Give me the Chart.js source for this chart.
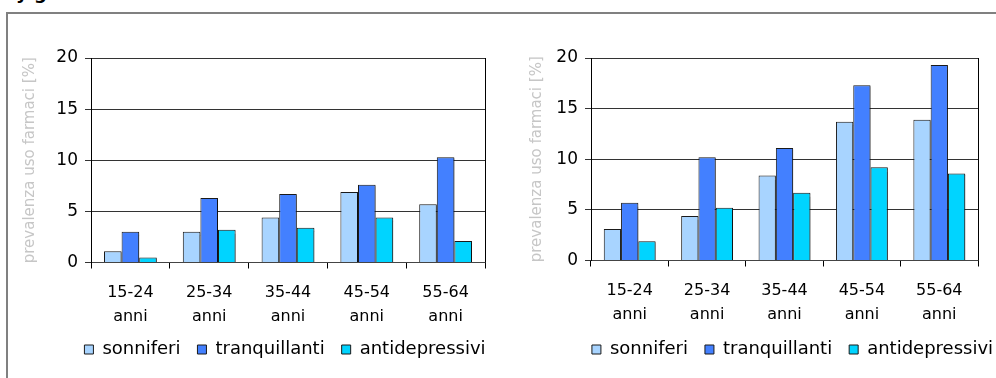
<!DOCTYPE html>
<html>
<head>
<meta charset="utf-8">
<script src="https://cdn.jsdelivr.net/npm/chart.js@4/dist/chart.umd.min.js"></script>
<style>
  body { margin: 0; width: 996px; height: 378px; overflow: hidden; background: #fff; position: relative; font-family: "DejaVu Sans", sans-serif; }
  #frame { position: absolute; left: 6px; top: 12px; width: 990px; height: 366px; border-top: 2px solid #808080; border-left: 2px solid #808080; }
  #heading { position: absolute; left: 3px; top: -18px; font: bold 18px "DejaVu Sans", sans-serif; white-space: nowrap; color: #000; }
  #leftBox { position: absolute; left: 8px; top: 14px; }
  #rightBox { position: absolute; left: 500px; top: 14px; }
</style>
</head>
<body>
<div id="heading">by gender</div>
<div id="frame"></div>
<div id="leftBox"><canvas id="leftChart" width="554" height="364"></canvas></div>
<div id="rightBox"><canvas id="rightChart" width="585" height="364"></canvas></div>
<script>
const ageGroups = [["15-24", "anni"], ["25-34", "anni"], ["35-44", "anni"], ["45-54", "anni"], ["55-64", "anni"]];
const seriesNames = ["sonniferi", "tranquillanti", "antidepressivi"];
const seriesColors = ["#a8d4ff", "#4380ff", "#00d4ff"];

// left panel
const leftSonniferi = [1.1, 3.0, 4.4, 6.9, 5.7];
const leftTranquillanti = [3.0, 6.3, 6.7, 7.6, 10.3];
const leftAntidepressivi = [0.5, 3.2, 3.4, 4.4, 2.1];

// right panel
const rightSonniferi = [3.1, 4.4, 8.4, 13.7, 13.9];
const rightTranquillanti = [5.7, 10.2, 11.1, 17.3, 19.3];
const rightAntidepressivi = [1.9, 5.2, 6.7, 9.2, 8.6];

const yMin = 0, yMax = 20, yStep = 5;
const yTitle = "prevalenza uso farmaci [%]";

Chart.defaults.font.family = '"DejaVu Sans", sans-serif';

const barShadow = {
  id: "barShadow",
  beforeDatasetsDraw(chart) {
    const c = chart.ctx;
    c.save();
    c.shadowColor = "rgba(0,0,0,0.35)";
    c.shadowOffsetX = 1.5;
    c.shadowOffsetY = 1;
    c.shadowBlur = 1;
  },
  afterDatasetsDraw(chart) {
    chart.ctx.restore();
  }
};

// right edge of the plot box
const plotFrame = {
  id: "plotFrame",
  afterDraw(chart) {
    const { ctx, chartArea } = chart;
    ctx.save();
    ctx.strokeStyle = "#000";
    ctx.lineWidth = 1;
    ctx.beginPath();
    ctx.moveTo(Math.round(chartArea.right) + 0.5, chartArea.top);
    ctx.lineTo(Math.round(chartArea.right) + 0.5, chartArea.bottom);
    ctx.stroke();
    ctx.restore();
  }
};

const makeChart = (canvasId, values, p) => {
  const datasets = seriesNames.map((name, i) => ({
    label: name,
    data: values[i],
    backgroundColor: seriesColors[i],
    borderColor: "#1a1a1a",
    borderWidth: 1,
    categoryPercentage: 0.67,
    barPercentage: 1
  }));

  return new Chart(document.getElementById(canvasId), {
    type: "bar",
    data: { labels: ageGroups, datasets: datasets },
    plugins: [barShadow, plotFrame],
    options: {
      responsive: false,
      animation: false,
      devicePixelRatio: 1,
      layout: { padding: { top: 44, right: 0, bottom: 9.5, left: 0 } },
      plugins: {
        tooltip: { enabled: false },
        legend: {
          position: "bottom",
          labels: {
            boxWidth: 9,
            boxHeight: 9,
            color: "#000",
            padding: 17,
            font: { size: 18 }
          }
        }
      },
      scales: {
        x: {
          grid: { drawOnChartArea: false, color: "#000", tickLength: 6 },
          border: { color: "#444" },
          ticks: { color: "#000", font: { size: 16, lineHeight: 1.47 }, padding: 13, maxRotation: 0, autoSkip: false },
          afterFit: (s) => { s.height = p.xHeight; }
        },
        y: {
          min: yMin,
          max: yMax,
          grid: { color: "#333", tickLength: 6 },
          border: { color: "#000" },
          ticks: { stepSize: yStep, color: "#000", font: { size: 17 }, padding: 7 },
          title: { display: true, text: yTitle, color: "#c6c6c6", font: { size: 15 }, padding: { top: p.titlePad, bottom: 0 } },
          afterFit: (s) => { s.width = p.yWidth; }
        },
        // empty spacer so the plot stops short of the wide canvas
        spacer: {
          type: "linear",
          position: "right",
          grid: { display: false },
          border: { display: false },
          ticks: { display: false },
          afterFit: (s) => { s.width = p.spacer; }
        }
      }
    }
  });
};

makeChart("leftChart", [leftSonniferi, leftTranquillanti, leftAntidepressivi],
  { xHeight: 61, yWidth: 83, titlePad: 13, spacer: 77 });
makeChart("rightChart", [rightSonniferi, rightTranquillanti, rightAntidepressivi],
  { xHeight: 63, yWidth: 91, titlePad: 28, spacer: 107 });
</script>
</body>
</html>
